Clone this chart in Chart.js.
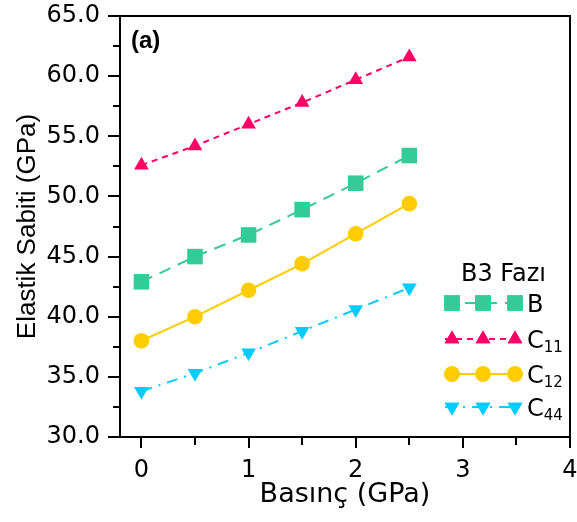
<!DOCTYPE html>
<html>
<head>
<meta charset="utf-8">
<script src="https://cdn.jsdelivr.net/npm/chart.js@4/dist/chart.umd.min.js"></script>
<style>
  html, body { margin: 0; padding: 0; background: #fff; }
  #wrap { width: 577px; height: 522px; }
</style>
</head>
<body>
<div id="wrap"><canvas id="chart" width="577" height="522"></canvas></div>
<script>
// ---- data ----
const pressure = [0, 0.5, 1, 1.5, 2, 2.5];
const bulkB = [42.9, 45.0, 46.8, 48.9, 51.1, 53.4];
const c11 = [52.6, 54.2, 56.0, 57.8, 59.7, 61.6];
const c12 = [38.0, 40.0, 42.2, 44.4, 46.9, 49.4];
const c44 = [33.8, 35.3, 37.0, 38.8, 40.6, 42.4];

const xTicks = [0, 1, 2, 3, 4];
const yTicks = [30, 35, 40, 45, 50, 55, 60, 65];

const FONT = '"DejaVu Sans"';
const FONT_NARROW = '"Liberation Sans"';

// series styles
const seriesStyle = [
    { label: 'B', sub: '', data: bulkB, color: '#33CC99', dash: [12, 8], point: 'rect', radius: 11, rotation: 0 },
    { label: 'C', sub: '11', data: c11, color: '#FF0066', dash: [6, 5], point: 'triangle', radius: 8.5, rotation: 0 },
    { label: 'C', sub: '12', data: c12, color: '#FFCC00', dash: [], point: 'circle', radius: 7.8, rotation: 0 },
    { label: 'C', sub: '44', data: c44, color: '#00CCFF', dash: [11, 7, 2, 7], point: 'triangle', radius: 8.5, rotation: 180 }
];

function toPoints(arr) {
    return pressure.map((p, i) => ({ x: p, y: arr[i] }));
}

// frame, ticks, legend and panel label
const decorPlugin = {
    id: 'decor',
    afterDraw(chart) {
        const ctx = chart.ctx;
        const a = chart.chartArea;
        const xs = chart.scales.x;
        const ys = chart.scales.y;
        ctx.save();

        // box
        ctx.strokeStyle = '#000';
        ctx.lineWidth = 2;
        ctx.beginPath();
        ctx.moveTo(a.left, a.top);
        ctx.lineTo(a.right, a.top);
        ctx.lineTo(a.right, a.bottom);
        ctx.stroke();
        ctx.beginPath();
        ctx.moveTo(a.left, a.top - 1);
        ctx.lineTo(a.left, a.bottom);
        ctx.lineTo(a.right + 1, a.bottom);
        ctx.stroke();

        // y ticks (major 5, minor 2.5)
        for (let v = 30; v <= 65; v += 2.5) {
            const y = Math.round(ys.getPixelForValue(v));
            const len = (v % 5 === 0) ? 12 : 7;
            ctx.beginPath();
            ctx.moveTo(a.left - len, y);
            ctx.lineTo(a.left, y);
            ctx.stroke();
        }
        // x ticks (major 1, minor 0.5)
        for (let v = 0; v <= 4; v += 0.5) {
            const x = Math.round(xs.getPixelForValue(v));
            const len = (v % 1 === 0) ? 11 : 8;
            ctx.beginPath();
            ctx.moveTo(x, a.bottom);
            ctx.lineTo(x, a.bottom + len);
            ctx.stroke();
        }

        // panel label
        ctx.fillStyle = '#000';
        ctx.font = 'bold 24px ' + FONT_NARROW;
        ctx.textAlign = 'left';
        ctx.textBaseline = 'middle';
        ctx.fillText('(a)', 131, 41);

        // legend
        ctx.font = '24px ' + FONT;
        ctx.textBaseline = 'alphabetic';
        ctx.fillText('B3 Faz\u0131', 461, 281);

        const lx0 = 445, lx1 = 522;
        const mx = [452, 483, 515];
        const rows = [303, 339, 374, 407];
        seriesStyle.forEach((s, i) => {
            const y = rows[i];
            ctx.strokeStyle = s.color;
            ctx.lineWidth = 2;
            ctx.setLineDash(s.dash);
            ctx.beginPath();
            ctx.moveTo(lx0, y);
            ctx.lineTo(lx1, y);
            ctx.stroke();
            ctx.setLineDash([]);
            ctx.fillStyle = s.color;
            mx.forEach(x => {
                Chart.helpers.drawPoint(ctx, {
                    pointStyle: s.point, radius: s.radius, rotation: s.rotation, borderWidth: 0
                }, x, y);
                ctx.fill();
            });
            ctx.fillStyle = '#000';
            ctx.font = '24px ' + FONT;
            ctx.fillText(s.label, 527, y + 8.5);
            if (s.sub) {
                const w = ctx.measureText(s.label).width;
                ctx.font = '15px ' + FONT;
                ctx.fillText(s.sub, 527 + w, y + 13);
            }
        });
        ctx.restore();
    }
};

const datasets = seriesStyle.map(s => ({
    label: s.label + s.sub,
    data: toPoints(s.data),
    borderColor: s.color,
    backgroundColor: s.color,
    borderWidth: 2,
    borderDash: s.dash,
    pointStyle: s.point,
    pointRadius: s.radius,
    pointRotation: s.rotation,
    pointBorderWidth: 0,
    pointHoverRadius: s.radius,
    tension: 0,
    clip: false
}));

new Chart(document.getElementById('chart'), {
    type: 'scatter',
    data: { datasets },
    options: {
        responsive: false,
        animation: false,
        showLine: true,
        layout: { autoPadding: false, padding: { top: 16, right: 7, left: 0, bottom: 0 } },
        plugins: {
            legend: { display: false },
            tooltip: { enabled: false }
        },
        scales: {
            x: {
                type: 'linear',
                min: -0.2,
                max: 4,
                afterFit: (scale) => {
                    scale.height = 85;
                    scale.paddingLeft = 0;
                    scale.paddingRight = 0;
                },
                afterBuildTicks: (scale) => { scale.ticks = xTicks.map(v => ({ value: v })); },
                grid: { display: false, drawTicks: false },
                border: { display: false },
                ticks: {
                    color: '#000',
                    padding: 19,
                    font: { family: FONT, size: 24 },
                    maxRotation: 0,
                    callback: (v) => String(v)
                },
                title: {
                    display: true,
                    text: 'Bas\u0131n\u00e7 (GPa)',
                    color: '#000',
                    font: { family: FONT, size: 27 },
                    padding: { top: 0, bottom: 11 }
                }
            },
            y: {
                type: 'linear',
                min: 30,
                max: 65,
                afterFit: (scale) => {
                    scale.width = 120;
                    scale.paddingTop = 0;
                    scale.paddingBottom = 0;
                },
                afterBuildTicks: (scale) => { scale.ticks = yTicks.map(v => ({ value: v })); },
                grid: { display: false, drawTicks: false },
                border: { display: false },
                ticks: {
                    color: '#000',
                    padding: 20,
                    font: { family: FONT, size: 24 },
                    callback: (v) => v.toFixed(1)
                },
                title: {
                    display: true,
                    text: 'Elastik Sabiti (GPa)',
                    color: '#000',
                    font: { family: FONT_NARROW, size: 26 },
                    padding: { top: 12, bottom: 0 }
                }
            }
        }
    },
    plugins: [decorPlugin]
});
</script>
</body>
</html>
